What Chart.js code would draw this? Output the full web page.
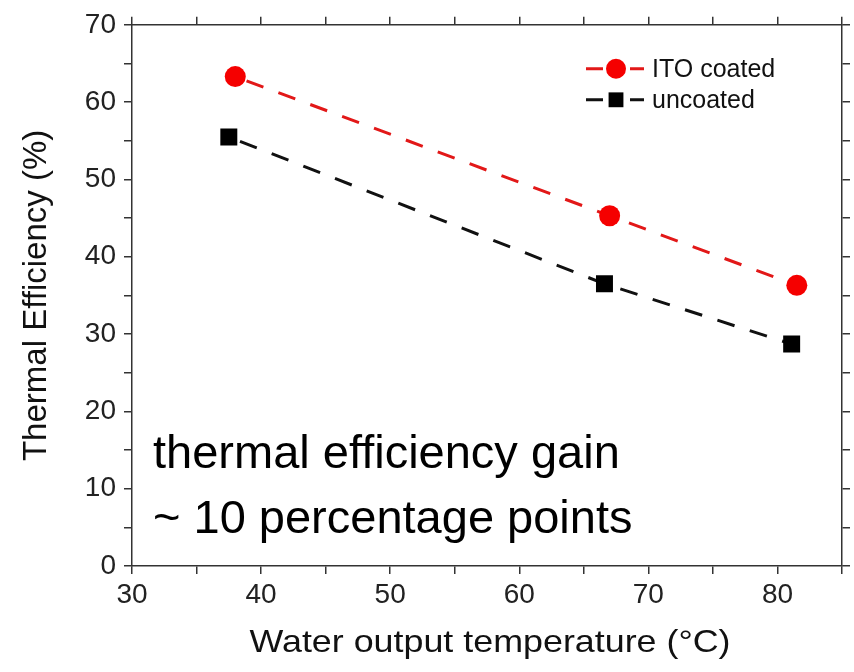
<!DOCTYPE html>
<html>
<head>
<meta charset="utf-8">
<script src="https://cdn.jsdelivr.net/npm/chart.js@4/dist/chart.umd.min.js"></script>
<style>
  html, body { margin: 0; padding: 0; background: #ffffff; }
  #wrap { width: 854px; height: 672px; position: relative; }
</style>
</head>
<body>
<div id="wrap"><canvas id="chart" width="854" height="672"></canvas></div>
<script>
// Measured thermal efficiency versus water output temperature
const seriesNames = ['ITO coated', 'uncoated'];
const itoTemp = [38.0, 67.0, 81.5];
const itoEff = [63.3, 45.3, 36.3];
const uncoatedTemp = [37.5, 66.6, 81.1];
const uncoatedEff = [55.5, 36.5, 28.7];
const xTickValues = [30, 40, 50, 60, 70, 80];
const yTickValues = [0, 10, 20, 30, 40, 50, 60, 70];
const noteLines = ['thermal efficiency gain', '~ 10 percentage points'];
const xTitle = 'Water output temperature (°C)';
const yTitle = 'Thermal Efficiency (%)';

const FONT = '"Liberation Sans", Arial, sans-serif';
const AXIS = '#333333';

function pairs(xs, ys) {
  return xs.map((x, i) => ({ x: x, y: ys[i] }));
}

// Major labels only; minor ticks every 5 units stay unlabeled
function labelFrom(list) {
  return function (v) { return list.includes(v) ? String(v) : ''; };
}

const gridOpts = {
  drawOnChartArea: false,
  drawTicks: true,
  tickLength: 8,
  color: AXIS,
  lineWidth: 1.5
};
const borderOpts = { display: true, color: AXIS, width: 1.5 };

// Legend drawn inside the plot, top right
const insetLegend = {
  id: 'insetLegend',
  afterDraw(chart) {
    const ctx = chart.ctx;
    const area = chart.chartArea;
    const x0 = area.right - 256;
    const rows = [area.top + 44, area.top + 75];
    chart.data.datasets.forEach((ds, i) => {
      const y = rows[i];
      ctx.save();
      ctx.strokeStyle = ds.borderColor;
      ctx.lineWidth = 3;
      ctx.beginPath();
      ctx.moveTo(x0, y); ctx.lineTo(x0 + 17, y);
      ctx.moveTo(x0 + 44, y); ctx.lineTo(x0 + 58, y);
      ctx.stroke();
      ctx.fillStyle = ds.pointBackgroundColor;
      Chart.helpers.drawPoint(ctx, {
        pointStyle: ds.pointStyle,
        radius: ds.pointStyle === 'rect' ? 10.5 : 10,
        borderWidth: 0,
        rotation: 0
      }, x0 + 30, y);
      ctx.fillStyle = '#111111';
      ctx.font = '25px ' + FONT;
      ctx.textBaseline = 'middle';
      ctx.textAlign = 'left';
      ctx.fillText(ds.label, x0 + 66, y + 1);
      ctx.restore();
    });
  }
};

// Two-line note in the lower left of the plot, plus the x-axis title
const textLayer = {
  id: 'textLayer',
  afterDraw(chart) {
    const ctx = chart.ctx;
    const area = chart.chartArea;
    ctx.save();
    ctx.fillStyle = '#000000';
    ctx.font = '47px ' + FONT;
    ctx.textBaseline = 'alphabetic';
    ctx.textAlign = 'left';
    ctx.fillText(noteLines[0], area.left + 21, 468);
    ctx.fillText(noteLines[1], area.left + 21, 533);
    ctx.restore();

    ctx.save();
    ctx.fillStyle = '#111111';
    ctx.font = '32px ' + FONT;
    ctx.textBaseline = 'middle';
    ctx.textAlign = 'center';
    ctx.translate((area.left + area.right) / 2 + 3, 643);
    ctx.scale(1.12, 1);
    ctx.fillText(xTitle, 0, 0);
    ctx.restore();
  }
};

new Chart(document.getElementById('chart'), {
  type: 'scatter',
  data: {
    datasets: [
      {
        label: seriesNames[0],
        data: pairs(itoTemp, itoEff),
        showLine: true,
        borderColor: 'rgb(226, 24, 24)',
        borderWidth: 3,
        borderDash: [18, 16],
        borderDashOffset: -12,
        pointStyle: 'circle',
        pointRadius: 10.5,
        pointHoverRadius: 10.5,
        pointBackgroundColor: 'rgb(245, 0, 0)',
        pointBorderWidth: 0
      },
      {
        label: seriesNames[1],
        data: pairs(uncoatedTemp, uncoatedEff),
        showLine: true,
        borderColor: '#111111',
        borderWidth: 3,
        borderDash: [18, 16],
        borderDashOffset: -12,
        pointStyle: 'rect',
        pointRadius: 12,
        pointHoverRadius: 12,
        pointBackgroundColor: '#000000',
        pointBorderWidth: 0
      }
    ]
  },
  options: {
    responsive: false,
    animation: false,
    events: [],
    layout: { padding: 0 },
    plugins: {
      legend: { display: false },
      tooltip: { enabled: false }
    },
    scales: {
      x: {
        type: 'linear',
        position: 'bottom',
        min: 30,
        max: 85,
        ticks: {
          stepSize: 5,
          autoSkip: false,
          maxRotation: 0,
          padding: 4,
          color: '#222222',
          font: { family: FONT, size: 28 },
          callback: labelFrom(xTickValues)
        },
        grid: gridOpts,
        border: borderOpts,
        afterFit(s) { s.height = 106; }
      },
      x2: {
        type: 'linear',
        axis: 'x',
        position: 'top',
        min: 30,
        max: 85,
        ticks: { stepSize: 5, display: false, autoSkip: false },
        grid: gridOpts,
        border: borderOpts,
        afterFit(s) { s.height = 22; }
      },
      y: {
        type: 'linear',
        position: 'left',
        min: 0,
        max: 70,
        ticks: {
          stepSize: 5,
          autoSkip: false,
          padding: 8,
          color: '#222222',
          font: { family: FONT, size: 28 },
          callback: labelFrom(yTickValues)
        },
        grid: gridOpts,
        border: borderOpts,
        title: {
          display: true,
          text: yTitle,
          color: '#111111',
          font: { family: FONT, size: 33 },
          padding: { top: 17, bottom: 0 }
        },
        afterFit(s) { s.width = 132; }
      },
      y2: {
        type: 'linear',
        axis: 'y',
        position: 'right',
        min: 0,
        max: 70,
        ticks: { stepSize: 5, display: false, autoSkip: false },
        grid: gridOpts,
        border: borderOpts,
        afterFit(s) { s.width = 7; }
      }
    }
  },
  plugins: [insetLegend, textLayer]
});
</script>
</body>
</html>
